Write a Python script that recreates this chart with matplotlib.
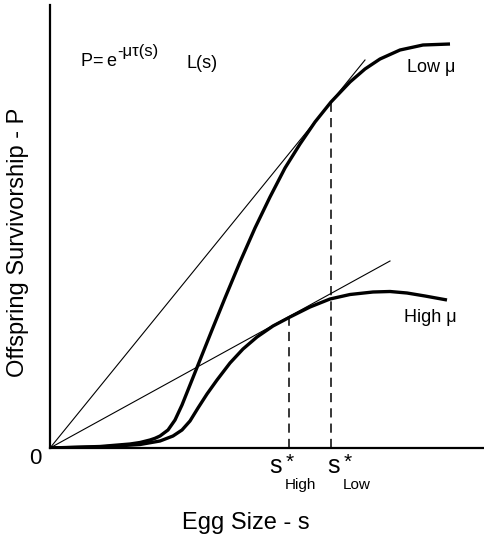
import matplotlib.pyplot as plt
import numpy as np

plt.rcParams['font.family'] = ['Liberation Sans', 'DejaVu Sans']

# curve readings (egg size s, survivorship P), arbitrary units
low_s = [0, 1.25, 2.0, 2.25, 2.5, 2.625, 2.75, 2.95, 3.125, 3.3, 3.5, 3.75, 4.05,
         4.375, 4.75, 5.125, 5.5, 5.875, 6.25, 6.625, 7.025, 7.5, 7.875, 8.25,
         8.75, 9.325, 10.0]
low_p = [0, 0.0375, 0.1, 0.1375, 0.2, 0.2425, 0.3, 0.45, 0.7, 1.075, 1.575, 2.2,
         2.95, 3.75, 4.65, 5.5, 6.275, 7.0, 7.6, 8.15, 8.65, 9.15, 9.475, 9.725,
         9.95, 10.075, 10.1]

high_s = [0, 1.25, 2.25, 2.75, 3.075, 3.3, 3.5, 3.7, 3.925, 4.175, 4.5, 4.825,
          5.175, 5.575, 6.0, 6.5, 7.0, 7.5, 8.075, 8.5, 8.925, 9.375, 9.925]
high_p = [0, 0.025, 0.0875, 0.175, 0.3, 0.45, 0.675, 1.0, 1.35, 1.7, 2.125, 2.475,
          2.775, 3.05, 3.275, 3.525, 3.725, 3.8375, 3.9, 3.9125, 3.875, 3.8, 3.7]

# tangent lines from the origin (end points)
tan_low = ([0, 7.875], [0, 9.7])
tan_high = ([0, 8.5], [0, 4.675])

# optimal egg sizes and the P at tangency
s_opt = {'High': 5.975, 'Low': 7.025}
p_opt = {'High': 3.25, 'Low': 8.65}

W, H = 484, 537
fig = plt.figure(figsize=(W / 100, H / 100), dpi=100)
ax = fig.add_axes([50 / W, 89 / H, 434 / W, 443 / H])
ax.set_xlim(0, 10.85)
ax.set_ylim(0, 11.075)

for xs, ys in [(low_s, low_p), (high_s, high_p)]:
    ax.plot(xs, ys, color='black', lw=2.4, solid_capstyle='butt',
            solid_joinstyle='round')
ax.plot(*tan_low, color='black', lw=0.8)
ax.plot(*tan_high, color='black', lw=0.8)
for k in s_opt:
    ax.plot([s_opt[k], s_opt[k]], [0, p_opt[k]], color='black', lw=1.1,
            dashes=(6, 4))

ax.set_xticks([])
ax.set_yticks([])
for side in ['top', 'right']:
    ax.spines[side].set_visible(False)
for side in ['left', 'bottom']:
    ax.spines[side].set_linewidth(1.6)


def t(px, py, s, **kw):
    fig.text(px / W, 1 - py / H, s, **kw)


t(18, 242, 'Offspring Survivorship - P', fontsize=17, rotation=90,
  ha='center', va='center')
t(246, 523, 'Egg Size - s', fontsize=17, ha='center', va='center')
t(35, 459, '0', fontsize=16, ha='center', va='center')

# formula
t(81, 66, 'P', fontsize=13, ha='left', va='baseline')
t(92, 66, '=', fontsize=13, ha='left', va='baseline')
t(106, 66, 'e', fontsize=13, ha='left', va='baseline')
t(117, 56, '-\u03bc\u03c4(s)', fontsize=12, ha='left', va='baseline')
t(186, 68, 'L(s)', fontsize=13, ha='left', va='baseline')

t(431, 67, 'Low \u03bc', fontsize=13, ha='center', va='center')
t(430, 318, 'High \u03bc', fontsize=13, ha='center', va='center')

# s* labels
t(269, 473, 's', fontsize=18, ha='left', va='baseline')
t(286, 468, '*', fontsize=15, ha='left', va='baseline')
t(285, 489, 'High', fontsize=11, ha='left', va='baseline')
t(327, 473, 's', fontsize=18, ha='left', va='baseline')
t(344, 468, '*', fontsize=15, ha='left', va='baseline')
t(343, 489, 'Low', fontsize=11, ha='left', va='baseline')

fig.savefig('out.png', dpi=100)
